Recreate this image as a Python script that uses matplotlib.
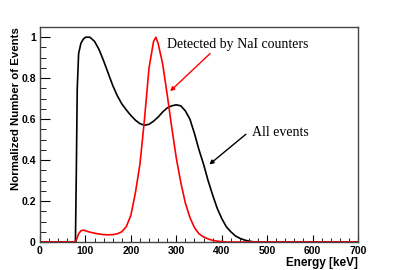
import matplotlib
matplotlib.use("Agg")
import matplotlib.pyplot as plt
from matplotlib.ticker import MultipleLocator

# energy [keV] and normalized counts
energy_all = [0, 70, 78, 80, 82, 85, 90, 95, 100, 110, 120, 130, 140, 150, 160, 170, 180,
              190, 200, 210, 220, 230, 240, 250, 260, 270, 280, 290, 300, 310, 320, 330,
              340, 350, 360, 370, 380, 390, 400, 410, 420, 430, 440, 450, 460, 470, 480, 700]
all_events = [0, 0, 0, 0.35, 0.75, 0.92, 0.97, 0.99, 1.0, 1.0, 0.98, 0.94, 0.885, 0.825,
              0.765, 0.715, 0.675, 0.645, 0.618, 0.595, 0.578, 0.57, 0.575, 0.59, 0.61,
              0.635, 0.655, 0.665, 0.67, 0.665, 0.64, 0.6, 0.53, 0.45, 0.38, 0.3, 0.23,
              0.165, 0.115, 0.075, 0.05, 0.03, 0.018, 0.01, 0.004, 0.001, 0, 0]

energy_nai = [0, 76, 80, 85, 90, 95, 100, 110, 120, 130, 140, 150, 160, 170, 180, 190, 200,
              210, 220, 230, 240, 250, 255, 260, 270, 280, 290, 300, 310, 320, 330, 340,
              350, 360, 370, 380, 390, 400, 410, 700]
nai_events = [0, 0, 0.01, 0.04, 0.055, 0.058, 0.055, 0.048, 0.043, 0.039, 0.036, 0.035,
              0.036, 0.04, 0.05, 0.075, 0.13, 0.24, 0.38, 0.6, 0.85, 0.98, 1.0, 0.97, 0.87,
              0.72, 0.56, 0.41, 0.29, 0.19, 0.12, 0.07, 0.04, 0.025, 0.015, 0.008, 0.004,
              0.002, 0, 0]

fig = plt.figure(figsize=(3.98, 2.70), dpi=100)
ax = fig.add_axes([0.1005, 0.1037, 0.799, 0.7963])

ax.plot(energy_all, all_events, c="black", lw=1.2)
ax.plot(energy_nai, nai_events, c="red", lw=1.2)

ax.set_xlim(0, 700)
ax.set_ylim(0, 1.05)

ax.xaxis.set_major_locator(MultipleLocator(100))
ax.xaxis.set_minor_locator(MultipleLocator(20))
ax.yaxis.set_minor_locator(MultipleLocator(0.05))
ax.set_yticks([0, 0.2, 0.4, 0.6, 0.8, 1.0])
ax.set_yticklabels(["0", "0.2", "0.4", "0.6", "0.8", "1"])

ax.tick_params(axis="both", which="both", direction="in", top=False, right=False,
               labelsize=7.5, pad=3)
ax.tick_params(axis="y", which="major", length=7)
ax.tick_params(axis="y", which="minor", length=4)
ax.tick_params(axis="x", which="major", length=5)
ax.tick_params(axis="x", which="minor", length=3)
for lab in ax.get_xticklabels() + ax.get_yticklabels():
    lab.set_fontweight("bold")
    lab.set_fontfamily("Liberation Sans")
for sp in ax.spines.values():
    sp.set_color("#444444")
    sp.set_linewidth(1)

fig.text(0.8995, 0.016, "Energy [keV]", ha="right", va="baseline", fontsize=8.5,
         fontweight="bold", family="Liberation Sans")
fig.text(0.04, 0.9, "Normalized Number of Events", ha="center", va="top",
         rotation=90, fontsize=8.2, fontweight="bold", family="Liberation Sans")

ax.annotate("Detected by NaI counters", xy=(282, 0.727), xytext=(280, 0.965),
            fontsize=10, family="Liberation Serif", va="center", ha="left")
ax.annotate("", xy=(282, 0.727), xytext=(379, 0.93),
            arrowprops=dict(arrowstyle="-|>", color="red", lw=1, mutation_scale=6))
ax.annotate("All events", xy=(368, 0.37), xytext=(467, 0.535),
            fontsize=10, family="Liberation Serif", va="center", ha="left")
ax.annotate("", xy=(368, 0.37), xytext=(458, 0.535),
            arrowprops=dict(arrowstyle="-|>", color="black", lw=1, mutation_scale=6))

fig.savefig("out.png", dpi=100)
